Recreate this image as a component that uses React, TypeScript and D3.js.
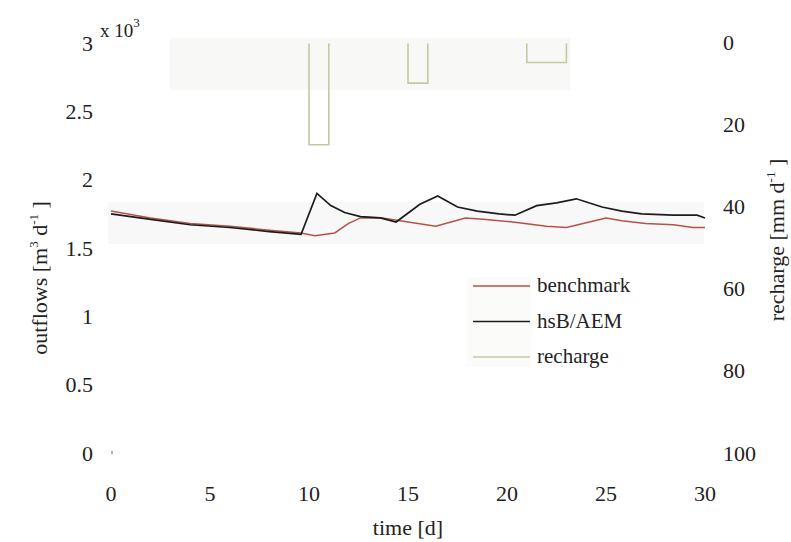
import React from "react";
import * as d3 from "d3";

// hsB/AEM outflows (x 10^3 m3/d)
const aemDays = [0, 2, 4, 6, 8, 9.6, 10.4, 11.1, 11.8, 12.6, 13.6, 14.4, 15.6, 16.5, 17.5, 18.5, 19.6, 20.4, 21.5, 22.5, 23.5, 24.8, 25.8, 26.8, 28.4, 29.6, 30];
const aemValues = [1.75, 1.71, 1.67, 1.65, 1.62, 1.6, 1.9, 1.81, 1.76, 1.73, 1.72, 1.69, 1.82, 1.88, 1.8, 1.77, 1.75, 1.74, 1.81, 1.83, 1.86, 1.8, 1.77, 1.75, 1.74, 1.74, 1.72];

// benchmark outflows
const benchDays = [0, 2, 4, 6, 8, 9.6, 10.3, 11.3, 12.0, 12.6, 13.7, 14.6, 15.5, 16.4, 17.9, 18.8, 20.3, 22.0, 23.0, 25.0, 25.8, 27.0, 28.4, 29.4, 30];
const benchValues = [1.77, 1.72, 1.68, 1.66, 1.63, 1.61, 1.59, 1.61, 1.68, 1.72, 1.72, 1.7, 1.68, 1.66, 1.72, 1.71, 1.69, 1.66, 1.65, 1.72, 1.7, 1.68, 1.67, 1.65, 1.65];

// recharge (mm/d), daily step
const rechargeDays = d3.range(0, 31);
const rechargeValues = [0, 0, 0, 0, 0, 0, 0, 0, 0, 0, 25, 0, 0, 0, 0, 10, 0, 0, 0, 0, 0, 5, 5, 0, 0, 0, 0, 0, 0, 0, 0];

const xTicks = [0, 5, 10, 15, 20, 25, 30];
const yTicks = [0, 0.5, 1, 1.5, 2, 2.5, 3];
const yTickLabels = ["0", "0.5", "1", "1.5", "2", "2.5", "3"];
const yRightTicks = [0, 20, 40, 60, 80, 100];

const legendItems = [
  { name: "benchmark", color: "#b5524a" },
  { name: "hsB/AEM", color: "#1c1c1c" },
  { name: "recharge", color: "#c6c8a2" },
];

const W = 791;
const H = 542;
const FONT = "'Liberation Serif', 'Times New Roman', serif";
const TXT = "#222";

export default function App() {
  const x = d3.scaleLinear().domain([0, 30]).range([111, 705]);
  const y = d3.scaleLinear().domain([0, 3]).range([453, 43]);
  const yR = d3.scaleLinear().domain([0, 100]).range([42, 453]);

  const mkLine = (days: number[], vals: number[]) =>
    d3
      .line<number>()
      .x((d) => x(d))
      .y((d, i) => y(vals[i]))(days) as string;

  const rechargePath = d3
    .line<number>()
    .x((d) => x(d))
    .y((d, i) => yR(rechargeValues[i]))
    .curve(d3.curveStepAfter)(rechargeDays) as string;

  return (
    <svg
      width={W}
      height={H}
      style={{ position: "absolute", left: 0, top: 0, background: "#fff" }}
      fontFamily={FONT}
    >
      <defs>
        <clipPath id="rclip">
          <rect x={0} y={yR(0) + 1.5} width={W} height={H} />
        </clipPath>
      </defs>

      {/* faint scan bands */}
      <rect x={170} y={38} width={400} height={52} fill="#f8f8f7" />
      <rect x={x(0) - 3} y={202} width={x(30) - x(0) + 2} height={42} fill="#f8f8f8" />
      <rect x={467} y={277} width={64} height={90} fill="#fbfbfa" />

      {/* recharge step line */}
      <path
        d={rechargePath}
        fill="none"
        stroke="#c6c8a2"
        strokeWidth={1.6}
        clipPath="url(#rclip)"
      />

      {/* outflow lines */}
      <path d={mkLine(benchDays, benchValues)} fill="none" stroke="#b5524a" strokeWidth={1.5} />
      <path d={mkLine(aemDays, aemValues)} fill="none" stroke="#1c1c1c" strokeWidth={1.7} />

      {/* small origin tick */}
      <line x1={x(0) + 1} x2={x(0) + 1} y1={y(0) - 2} y2={y(0) + 1} stroke="#666" strokeWidth={1} />

      {/* left axis labels */}
      {yTicks.map((t, i) => (
        <text
          key={"yl" + t}
          x={93}
          y={y(t)}
          textAnchor="end"
          dominantBaseline="central"
          fontSize={22}
          fill={TXT}
        >
          {yTickLabels[i]}
        </text>
      ))}
      <text x={100} y={37} fontSize={19} fill={TXT}>
        x 10
        <tspan dy={-10} fontSize={13}>
          3
        </tspan>
      </text>

      {/* right axis labels */}
      {yRightTicks.map((t) => (
        <text
          key={"yr" + t}
          x={723}
          y={yR(t)}
          dominantBaseline="central"
          fontSize={22}
          fill={TXT}
        >
          {t}
        </text>
      ))}

      {/* x axis labels */}
      {xTicks.map((t) => (
        <text
          key={"x" + t}
          x={x(t)}
          y={493}
          textAnchor="middle"
          dominantBaseline="central"
          fontSize={22}
          fill={TXT}
        >
          {t}
        </text>
      ))}
      <text x={(x(0) + x(30)) / 2} y={535} textAnchor="middle" fontSize={22} fill={TXT}>
        time [d]
      </text>

      {/* axis titles */}
      <text
        transform={`translate(47,278) rotate(-90)`}
        textAnchor="middle"
        fontSize={22}
        fill={TXT}
      >
        outflows [m
        <tspan dy={-9} fontSize={13}>
          3
        </tspan>
        <tspan dy={9}> d</tspan>
        <tspan dy={-9} fontSize={13}>
          -1
        </tspan>
        <tspan dy={9}> ]</tspan>
      </text>
      <text
        transform={`translate(784,240) rotate(-90)`}
        textAnchor="middle"
        fontSize={22}
        fill={TXT}
      >
        recharge [mm d
        <tspan dy={-9} fontSize={13}>
          -1
        </tspan>
        <tspan dy={9}> ]</tspan>
      </text>

      {/* legend */}
      {legendItems.map((it, i) => (
        <g key={it.name} transform={`translate(473,${286 + i * 35.5})`}>
          <line x1={0} x2={57} y1={0} y2={0} stroke={it.color} strokeWidth={1.6} />
          <text x={64} y={6} fontSize={21} fill={TXT}>
            {it.name}
          </text>
        </g>
      ))}
    </svg>
  );
}
